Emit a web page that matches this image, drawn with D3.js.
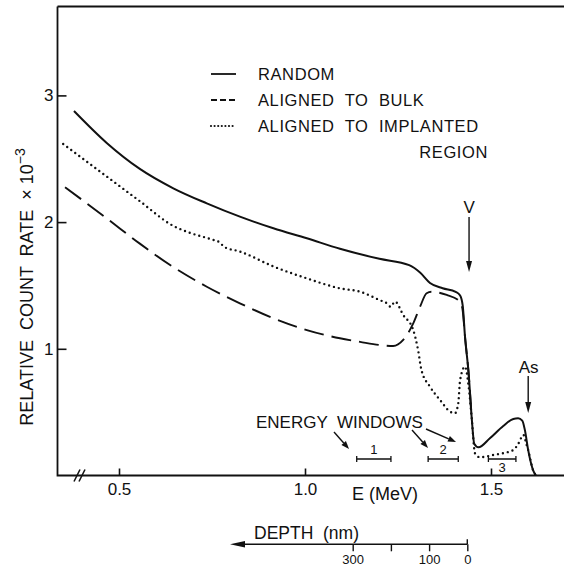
<!DOCTYPE html>
<html><head><meta charset="utf-8">
<script src="https://cdn.jsdelivr.net/npm/d3@7"></script>
<style>
body{margin:0;background:#fff}
svg{display:block}
text{font-family:"Liberation Sans",Arial,sans-serif;fill:#111;white-space:pre}
</style>
</head><body>
<svg id="c" width="564" height="568"></svg>
<script>
// ---- data (E in MeV, relative count rate x 10^-3) ----
const randomE = [0.379,0.467,0.556,0.646,0.736,0.825,0.915,1.005,1.094,1.20,1.28,1.31,1.336,1.37,1.405,1.417,1.424,1.430,1.440,1.448,1.455,1.466,1.497,1.533,1.560,1.573,1.584,1.591,1.600,1.613,1.621];
const randomV = [2.877,2.625,2.42,2.267,2.148,2.043,1.951,1.872,1.79,1.71,1.66,1.60,1.52,1.478,1.45,1.42,1.34,1.10,0.80,0.46,0.25,0.222,0.294,0.391,0.446,0.451,0.433,0.36,0.20,0.043,0.0];
const bulkE = [0.355,0.467,0.556,0.646,0.736,0.825,0.915,1.005,1.094,1.148,1.20,1.237,1.264,1.291,1.309,1.327,1.34,1.381,1.417,1.424,1.430,1.440,1.448];
const bulkV = [2.275,2.03,1.83,1.645,1.49,1.359,1.241,1.148,1.083,1.055,1.03,1.022,1.07,1.20,1.33,1.438,1.45,1.425,1.372,1.30,1.10,0.80,0.46];
const implE = [0.350,0.467,0.556,0.646,0.691,0.750,0.772,0.782,0.825,0.915,1.005,1.094,1.148,1.200,1.220,1.230,1.242,1.264,1.291,1.304,1.313,1.336,1.363,1.390,1.403,1.412,1.417,1.430,1.440,1.448,1.457,1.470,1.506,1.560,1.574,1.587,1.595,1.600,1.613,1.621];
const implV = [2.616,2.36,2.165,1.97,1.915,1.862,1.838,1.805,1.768,1.65,1.556,1.477,1.451,1.385,1.359,1.332,1.372,1.267,1.148,0.99,0.833,0.701,0.596,0.504,0.491,0.57,0.754,0.859,0.70,0.46,0.175,0.144,0.162,0.201,0.254,0.32,0.25,0.20,0.043,0.0];
const xTicks = [0.5,1.0,1.5];
const yTicks = [1,2,3];
const depthTicks = [0,100,200,300];
const depthLabeled = [0,100,300];
const windowNames = ["1","2","3"];
const windowStart = [1.139,1.331,1.493];
const windowEnd = [1.231,1.412,1.567];
const legendNames = ["RANDOM","ALIGNED  TO  BULK","ALIGNED  TO  IMPLANTED"];
const markerV = 1.441, markerAs = 1.600;

// ---- layout ----
const svg = d3.select("#c");
const L = 57.5, T = 6.5, B = 475.5, R = 564;
const x = d3.scaleLinear().domain([0.5,1.5]).range([119,491]);
const y = d3.scaleLinear().domain([0,3]).range([475.5,95.4]);
const ink = "#111";

// frame
svg.append("path").attr("d",`M${L},${T}H${R}M${L},${T}V${B}H${R}`)
  .attr("fill","none").attr("stroke",ink).attr("stroke-width",1.8);

// y axis
const gy = svg.append("g").attr("transform",`translate(${L},0)`)
  .call(d3.axisLeft(y).tickValues(yTicks).tickSize(-9).tickPadding(4).tickFormat(d3.format("d")));
gy.select(".domain").remove();
gy.selectAll("line").attr("stroke",ink).attr("stroke-width",1.6);
gy.selectAll("text").attr("font-size",17).attr("fill",ink);

// x axis
const gx = svg.append("g").attr("transform",`translate(0,${B})`)
  .call(d3.axisBottom(x).tickValues(xTicks).tickSize(-7).tickPadding(7).tickFormat(d3.format(".1f")));
gx.select(".domain").remove();
gx.selectAll("line").attr("stroke",ink).attr("stroke-width",1.6);
gx.selectAll("text").attr("font-size",17).attr("fill",ink);

// axis break
[77,82].forEach(bx=>{
  svg.append("line").attr("x1",bx-3).attr("y1",B+6).attr("x2",bx+3).attr("y2",B-6)
    .attr("stroke",ink).attr("stroke-width",1.5);
});

// axis titles
svg.append("text").attr("x",385).attr("y",500).attr("text-anchor","middle")
  .attr("font-size",18).text("E (MeV)");
const yt = svg.append("text").attr("transform","translate(33,287) rotate(-90)")
  .attr("text-anchor","middle").attr("font-size",18);
yt.append("tspan").text("RELATIVE  COUNT  RATE  × 10");
yt.append("tspan").attr("dy",-8).attr("font-size",14).text("−3");

// curves
const line = d3.line().x(d=>x(d[0])).y(d=>y(d[1])).curve(d3.curveMonotoneX);
const zipE = (E,V)=>E.map((e,i)=>[e,V[i]]);
svg.append("path").attr("d",line(zipE(bulkE,bulkV))).attr("fill","none")
  .attr("stroke",ink).attr("stroke-width",1.9).attr("stroke-dasharray","20,8");
svg.append("path").attr("d",line(zipE(implE,implV))).attr("fill","none")
  .attr("stroke",ink).attr("stroke-width",2.4).attr("stroke-linecap","round").attr("stroke-dasharray","0,5");
svg.append("path").attr("d",line(zipE(randomE,randomV))).attr("fill","none")
  .attr("stroke",ink).attr("stroke-width",2);

// legend
const legY = [74,100,126];
const legDash = [null,"6,3","0,3.6"];
const legCap = ["butt","butt","round"];
const legW = [1.8,1.8,2.2];
legendNames.forEach((n,i)=>{
  svg.append("line").attr("x1",211).attr("x2",236).attr("y1",legY[i]).attr("y2",legY[i])
    .attr("stroke",ink).attr("stroke-width",legW[i]).attr("stroke-linecap",legCap[i])
    .attr("stroke-dasharray",legDash[i]);
  svg.append("text").attr("x",258).attr("y",legY[i]+6).attr("font-size",16.5)
    .attr("letter-spacing",0.6).text(n);
});
svg.append("text").attr("x",488).attr("y",158).attr("text-anchor","end").attr("font-size",16.5)
  .attr("letter-spacing",0.6).text("REGION");

// arrowhead helper
function arrow(x1,y1,x2,y2,len,hw){
  const a = Math.atan2(y2-y1,x2-x1);
  const bx = x2-len*Math.cos(a), by = y2-len*Math.sin(a);
  svg.append("line").attr("x1",x1).attr("y1",y1).attr("x2",bx).attr("y2",by)
    .attr("stroke",ink).attr("stroke-width",1.4);
  const px = -Math.sin(a)*hw, py = Math.cos(a)*hw;
  svg.append("path").attr("d",`M${x2},${y2}L${bx+px},${by+py}L${bx-px},${by-py}Z`).attr("fill",ink);
}

// V and As markers
svg.append("text").attr("x",x(markerV)).attr("y",213).attr("text-anchor","middle").attr("font-size",17).text("V");
arrow(x(markerV),217,x(markerV),272,11,3);
svg.append("text").attr("x",x(markerAs)+0.5).attr("y",373).attr("text-anchor","middle").attr("font-size",17).text("As");
arrow(x(markerAs),376,x(markerAs),413,11,3);

// energy windows
svg.append("text").attr("x",256).attr("y",428).attr("font-size",17).text("ENERGY  WINDOWS");
arrow(334,432,349,449,8,3);
arrow(412,430,428,448,8,3);
arrow(426,429,456,442,8,3);
const wy = 459;
windowNames.forEach((n,i)=>{
  const a = x(windowStart[i]), b = x(windowEnd[i]);
  svg.append("path").attr("d",`M${a},${wy-3}V${wy+3}M${a},${wy}H${b}M${b},${wy-3}V${wy+3}`)
    .attr("fill","none").attr("stroke",ink).attr("stroke-width",1.3);
  svg.append("text").attr("x",(a+b)/2).attr("y",i<2?wy-5:wy+13).attr("text-anchor","middle")
    .attr("font-size",13).text(n);
});

// depth axis
const dx = d3.scaleLinear().domain([0,300]).range([467.3,352.7]);
const dy = 544.3;
arrow(dx(0),dy,230,dy,15,3.2);
const gd = svg.append("g").attr("transform",`translate(0,${dy})`)
  .call(d3.axisBottom(dx).tickValues(depthTicks).tickSize(7).tickPadding(3)
    .tickFormat(d=>depthLabeled.includes(d)?d:""));
gd.select(".domain").remove();
gd.selectAll("line").attr("stroke",ink).attr("stroke-width",1.4);
gd.selectAll("text").attr("font-size",13).attr("fill",ink);
svg.append("line").attr("x1",dx(0)).attr("x2",dx(0)).attr("y1",dy-5).attr("y2",dy).attr("stroke",ink).attr("stroke-width",1.4);
svg.append("text").attr("x",254).attr("y",539).attr("font-size",17.5).text("DEPTH  (nm)");
</script>
</body></html>
